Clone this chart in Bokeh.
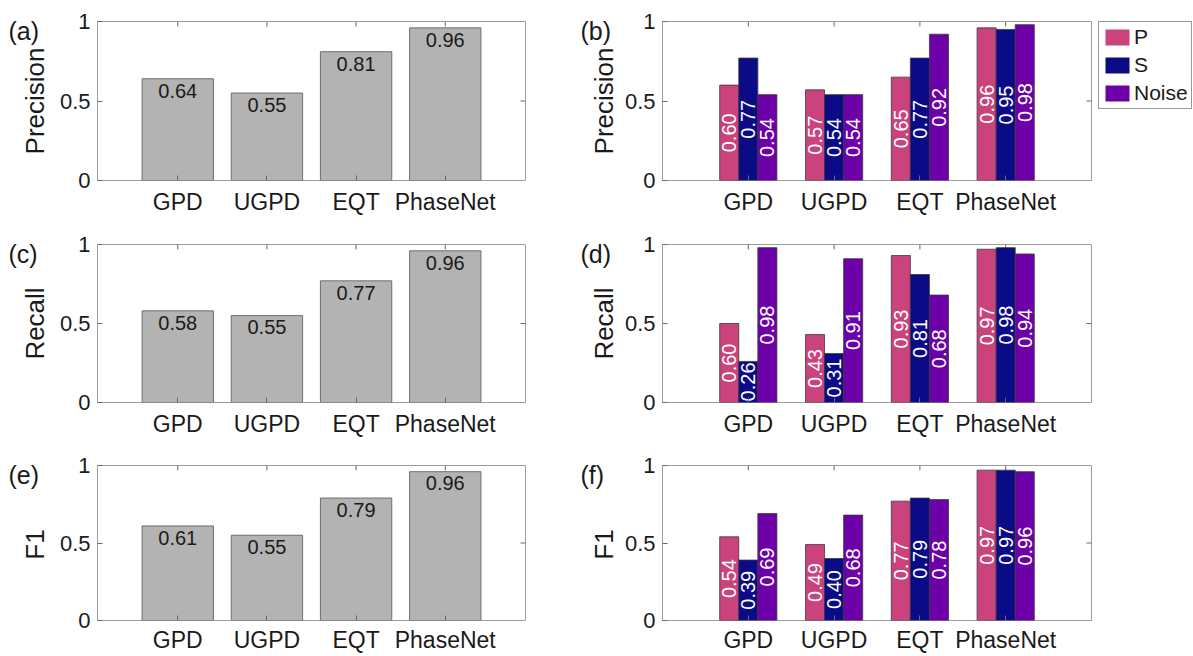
import math
from bokeh.plotting import figure
from bokeh.models import (FactorRange, Range1d, FixedTicker, Label, Legend, LegendItem,
                          ColumnDataSource)
from bokeh.transform import dodge
from bokeh.layouts import column, row
from bokeh.embed import file_html
from bokeh.resources import INLINE
from bokeh.core.properties import value

# ---------------- data ----------------
models = ["GPD", "UGPD", "EQT", "PhaseNet"]
series = ["P", "S", "Noise"]

overall_precision = [0.64, 0.55, 0.81, 0.96]
overall_recall = [0.58, 0.55, 0.77, 0.96]
overall_f1 = [0.61, 0.55, 0.79, 0.96]

precision_p = [0.60, 0.57, 0.65, 0.96]
precision_s = [0.77, 0.54, 0.77, 0.95]
precision_noise = [0.54, 0.54, 0.92, 0.98]

recall_p = [0.50, 0.43, 0.93, 0.97]
recall_p_labels = ["0.60", "0.43", "0.93", "0.97"]
recall_s = [0.26, 0.31, 0.81, 0.98]
recall_noise = [0.98, 0.91, 0.68, 0.94]

f1_p = [0.54, 0.49, 0.77, 0.97]
f1_s = [0.39, 0.40, 0.79, 0.97]
f1_noise = [0.69, 0.68, 0.78, 0.96]

# ---------------- style ----------------
FONT = "Liberation Sans"
TXT = "#1a1a1a"
EDGE = "#9c9c9c"
TICK = "#6a6a6a"
GRAY = "#b3b3b3"
COLORS = {"P": "#cb437c", "S": "#0b0a87", "Noise": "#6d00a8"}

SIDE_L, MAIN_L = 56, 512      # left panel: label strip + plot
SIDE_R, MAIN_R = 53, 472      # right panel: label strip + plot
LEG_W = 100
ROWS = [  # (height, top border, bottom border, x-label standoff)
    (222, 21, 42, 8),
    (222, 22, 42, 8),
    (211, 21, 32, 6),
]


def blank_fig(width, height, bl=0, bt=0):
    s = figure(width=width, height=height, x_range=Range1d(0, 1), y_range=Range1d(0, 1),
               min_border=0, min_border_left=bl, min_border_right=0,
               min_border_top=bt, min_border_bottom=0,
               x_axis_location=None, y_axis_location=None,
               output_backend="svg", toolbar_location=None)
    s.frame_align = False
    s.outline_line_color = None
    s.xgrid.visible = False
    s.ygrid.visible = False
    return s


def side_fig(width, rowspec, tag, tag_x, ylabel, ylabel_x):
    h, bt, bb, _ = rowspec
    s = blank_fig(width, h)
    s.add_layout(Label(x=tag_x, y=h - bt + 5, x_units="screen", y_units="screen",
                       text=tag, text_font=FONT, text_font_size="25px",
                       text_color=TXT, text_baseline="top", text_align="left"))
    fh = h - bt - bb
    s.add_layout(Label(x=ylabel_x, y=bb + fh / 2, x_units="screen", y_units="screen",
                       text=ylabel, text_font=FONT, text_font_size="26px",
                       text_color=TXT, text_baseline="middle", text_align="center",
                       angle=math.pi / 2))
    return s


def make_fig(width, rowspec, bl, br, pad):
    h, bt, bb, xstand = rowspec
    p = figure(width=width, height=h,
               x_range=FactorRange(factors=models, range_padding=pad,
                                   range_padding_units="absolute"),
               y_range=Range1d(0, 1),
               min_border_left=bl, min_border_right=br,
               min_border_top=bt, min_border_bottom=bb,
               output_backend="svg", toolbar_location=None)
    p.outline_line_color = EDGE
    p.outline_line_width = 1
    p.xgrid.visible = False
    p.ygrid.visible = False
    p.background_fill_color = "white"
    p.border_fill_color = "white"
    xa = p.xaxis[0]
    ya = p.yaxis[0]
    for ax in (xa, ya):
        ax.axis_line_color = None
        ax.major_tick_in = 5
        ax.major_tick_out = 0
        ax.major_tick_line_color = TICK
        ax.minor_tick_line_color = None
        ax.major_label_text_font = FONT
        ax.major_label_text_color = TXT
    xa.major_label_text_font_size = "23px"
    ya.major_label_text_font_size = "22px"
    xa.major_label_standoff = xstand
    ya.ticker = FixedTicker(ticks=[0, 0.5, 1])
    ya.major_label_overrides = {0: "0", 0.5: "0.5", 1: "1"}
    ya.major_label_standoff = 7
    # mirrored tick marks (MATLAB box style) on top and right edges
    p.ray(x=models, y=p.y_range.end, length=5, length_units="screen",
          angle=-math.pi / 2, line_color=TICK, line_width=1)
    p.ray(x=len(models) + pad, y=0.5, length=5, length_units="screen",
          angle=math.pi, line_color=TICK, line_width=1)
    return p


def overall_panel(vals, ylabel, tag, rowspec):
    s = side_fig(SIDE_L, rowspec, tag, 8, ylabel, 34)
    p = make_fig(MAIN_L, rowspec, 40, 43, 0.4)
    src = ColumnDataSource(dict(model=models, value=vals,
                                label=[f"{v:.2f}" for v in vals],
                                label_y=[v - 0.075 for v in vals]))
    p.vbar(x="model", top="value", width=0.8, source=src,
           fill_color=GRAY, line_color="#6e6e6e", line_width=1)
    p.text(x="model", y="label_y", text="label", source=src,
           text_font=value(FONT), text_font_size="20px", text_color=TXT,
           text_align="center", text_baseline="middle")
    return [s, p]


def legend_fig(rowspec):
    h, bt, bb, _ = rowspec
    lf = blank_fig(LEG_W, h, bl=5, bt=bt)
    items = []
    for k in series:
        # zero-size placeholder bar: only carries the series style for the legend key
        r = lf.vbar(x=[0.5], top=[0.0], bottom=[0.0], width=0.0,
                    fill_color=COLORS[k], line_color=None)
        items.append(LegendItem(label=k, renderers=[r]))
    lg = Legend(items=items, location="top_left", orientation="vertical")
    lg.label_text_font = FONT
    lg.label_text_font_size = "21px"
    lg.label_text_color = TXT
    lg.glyph_width = 30
    lg.glyph_height = 20
    lg.label_height = 19
    lg.label_standoff = 2
    lg.spacing = 4
    lg.padding = 3
    lg.margin = 0
    lg.border_line_color = "#333333"
    lg.border_line_width = 1
    lg.background_fill_color = "white"
    lg.background_fill_alpha = 1
    lf.add_layout(lg, "center")
    return lf


def split_panel(pv, sv, nv, ylabel, tag, rowspec, p_labels=None, legend=False):
    s = side_fig(SIDE_R, rowspec, tag, 12, ylabel, 35)
    p = make_fig(MAIN_R, rowspec, 40, 2, 0.5)
    if p_labels is None:
        p_labels = [f"{v:.2f}" for v in pv]
    src = ColumnDataSource(dict(
        model=models,
        P=pv, S=sv, Noise=nv,
        P_label=p_labels,
        S_label=[f"{v:.2f}" for v in sv],
        Noise_label=[f"{v:.2f}" for v in nv],
        P_mid=[v / 2 for v in pv],
        S_mid=[v / 2 for v in sv],
        Noise_mid=[v / 2 for v in nv],
    ))
    bw = 2.0 / 9.0
    offsets = {"P": -bw, "S": 0.0, "Noise": bw}
    for k in series:
        p.vbar(x=dodge("model", offsets[k], range=p.x_range), top=k,
               width=bw, source=src, fill_color=COLORS[k],
               line_color="#3a3a3a", line_width=0.8)
    for k in series:
        p.text(x=dodge("model", offsets[k], range=p.x_range), y=f"{k}_mid",
               text=f"{k}_label", source=src, angle=math.pi / 2,
               text_font=value(FONT), text_font_size="20px", text_color="white",
               text_align="center", text_baseline="middle")
    out = [s, p]
    if legend:
        out.append(legend_fig(rowspec))
    return out


r1 = overall_panel(overall_precision, "Precision", "(a)", ROWS[0]) + \
    split_panel(precision_p, precision_s, precision_noise, "Precision", "(b)", ROWS[0], legend=True)
r2 = overall_panel(overall_recall, "Recall", "(c)", ROWS[1]) + \
    split_panel(recall_p, recall_s, recall_noise, "Recall", "(d)", ROWS[1], p_labels=recall_p_labels)
r3 = overall_panel(overall_f1, "F1", "(e)", ROWS[2]) + \
    split_panel(f1_p, f1_s, f1_noise, "F1", "(f)", ROWS[2])

layout = column(row(*r1), row(*r2), row(*r3))

open("out.html", "w").write(file_html(layout, INLINE))
